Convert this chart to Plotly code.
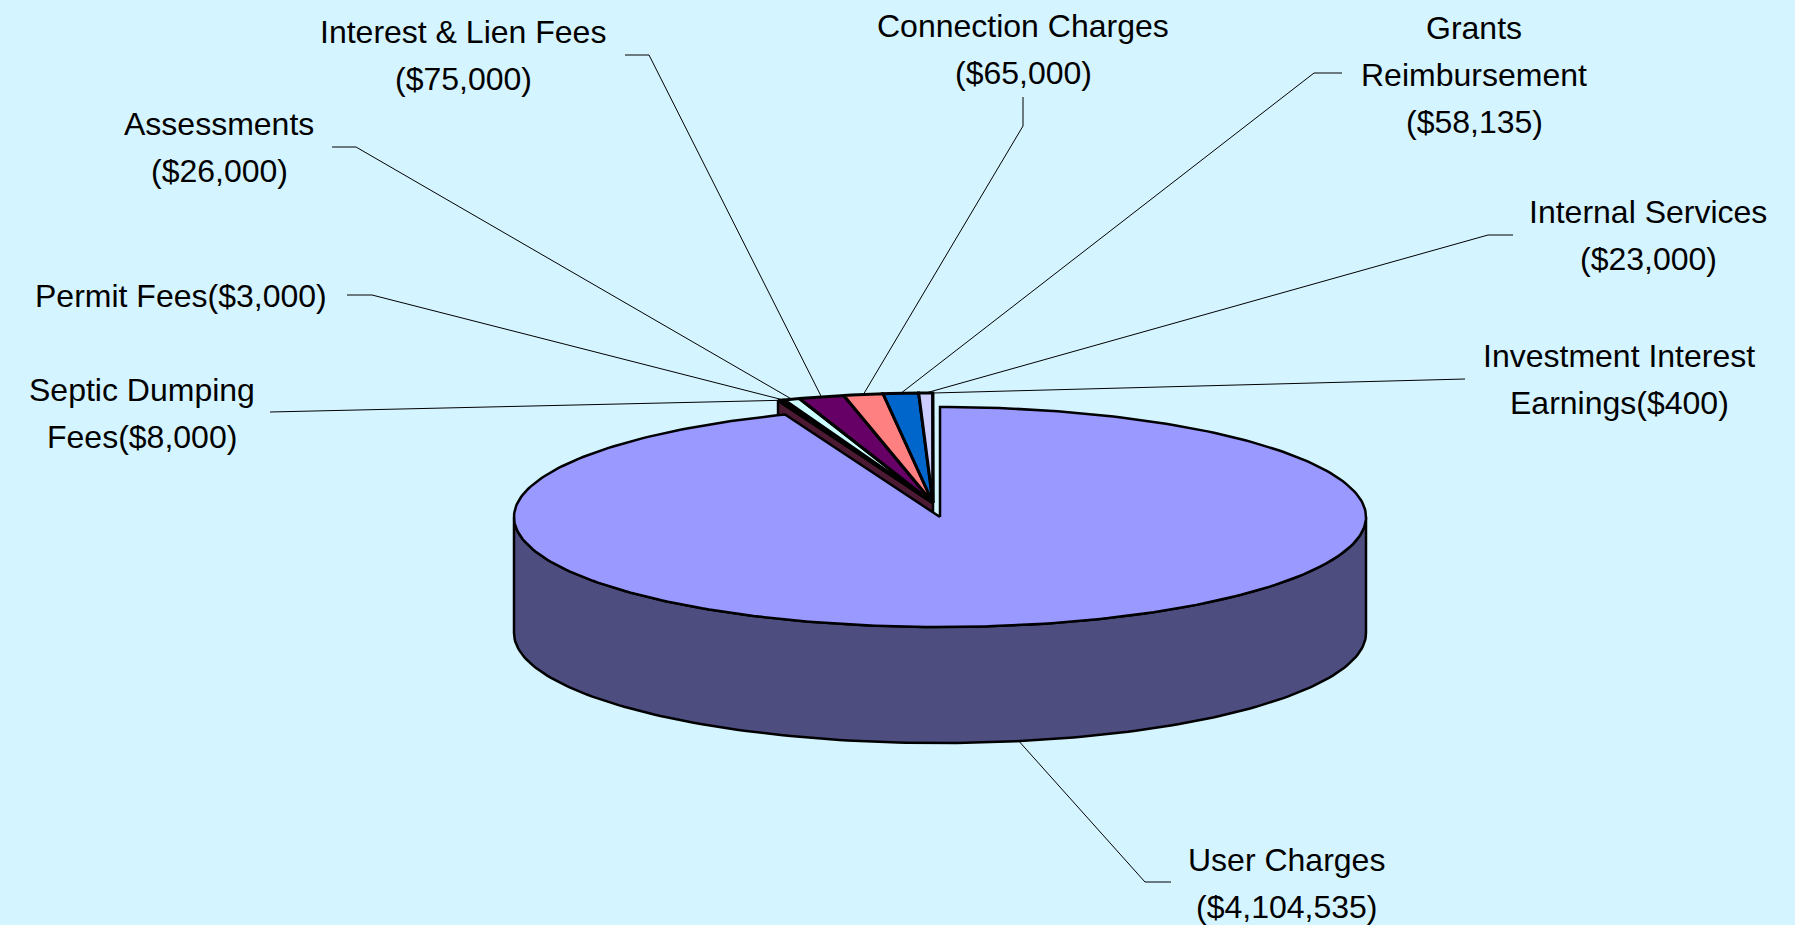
import numpy as np
import plotly.graph_objects as go

# ---- data ----
categories = ["User Charges", "Septic Dumping Fees", "Permit Fees", "Assessments",
              "Interest & Lien Fees", "Connection Charges", "Grants Reimbursement",
              "Internal Services", "Investment Interest Earnings"]
values = [4104535, 8000, 3000, 26000, 75000, 65000, 58135, 23000, 400]
label_lines = [["User Charges", "($4,104,535)"],
               ["Septic Dumping", "Fees($8,000)"],
               ["Permit Fees($3,000)"],
               ["Assessments", "($26,000)"],
               ["Interest & Lien Fees", "($75,000)"],
               ["Connection Charges", "($65,000)"],
               ["Grants", "Reimbursement", "($58,135)"],
               ["Internal Services", "($23,000)"],
               ["Investment Interest", "Earnings($400)"]]

# ---- style / layout ----
top_colors = ["#9999FF", "#993366", "#FFFFCC", "#CCFFFF", "#660066",
              "#FF8080", "#0066CC", "#CCCCFF", "#000080"]
user_wall = "#4D4D80"
septic_wall = "#4D1A33"
bg = "#D4F4FF"
W, H = 1795, 925
RX, RY, DEPTH = 426, 110, 116
USER_C = (940, 517)
GROUP_C = (933, 503)
FONT = dict(family="Liberation Sans", size=32, color="#000000")
LINE_H = 47
label_xy = [(1286, 860), (142, 390), (181, 296), (219, 124), (463, 32),
            (1023, 26), (1474, 28), (1648, 212), (1619, 356)]
elbows = [[(1145, 882), (1171, 882)],
          [(296, 412), (270, 412)],
          [(372, 295), (347, 295)],
          [(356, 147), (332, 147)],
          [(649, 55), (625, 55)],
          [(1023, 126), (1023, 97)],
          [(1314, 73), (1342, 73)],
          [(1488, 235), (1513, 235)],
          [(1440, 379), (1465, 379)]]

# ---- geometry derived from the values ----
total = sum(values)
edges = np.concatenate([[0], np.cumsum(values) / total * 2 * np.pi])


def rim(c, t, drop=0.0):
    t = np.asarray(t, dtype=float)
    return c[0] + RX * np.sin(t), c[1] - RY * np.cos(t) + drop


def arc(t0, t1):
    return np.linspace(t0, t1, max(2, int(abs(t1 - t0) / 0.02) + 2))


fig = go.Figure()


def poly(xs, ys, fill, lw):
    fig.add_trace(go.Scatter(x=list(xs), y=list(ys), mode="lines", fill="toself",
                             fillcolor=fill, line=dict(color="#000000", width=lw),
                             hoverinfo="skip", showlegend=False))


# leader lines
for i in range(len(values)):
    mid = (edges[i] + edges[i + 1]) / 2
    if i == 0:
        ax, ay = rim(USER_C, mid, DEPTH)
    else:
        ax, ay = rim(GROUP_C, mid)
    pts = [(float(ax), float(ay))] + elbows[i]
    fig.add_trace(go.Scatter(x=[p[0] for p in pts], y=[p[1] for p in pts], mode="lines",
                             line=dict(color="#000000", width=1),
                             hoverinfo="skip", showlegend=False))

# front cut wall of the exploded group (first small slice)
wx, wy = rim(GROUP_C, edges[1])
poly([GROUP_C[0], float(wx), float(wx), GROUP_C[0], GROUP_C[0]],
     [GROUP_C[1], float(wy), float(wy) + DEPTH, GROUP_C[1] + DEPTH, GROUP_C[1]],
     septic_wall, 2.5)

# small slices, tops
for i in range(1, len(values)):
    px, py = rim(GROUP_C, arc(edges[i], edges[i + 1]))
    poly(np.r_[GROUP_C[0], px, GROUP_C[0]], np.r_[GROUP_C[1], py, GROUP_C[1]],
         top_colors[i], 3)

# user slice, outer wall
t = arc(np.pi / 2, 3 * np.pi / 2)
ux, uy = rim(USER_C, t)
lx, ly = rim(USER_C, t[::-1], DEPTH)
poly(np.r_[ux, lx, ux[0]], np.r_[uy, ly, uy[0]], user_wall, 2.5)

# user slice, top
t = arc(edges[0], edges[1])
px, py = rim(USER_C, t)
poly(np.r_[USER_C[0], px, USER_C[0]], np.r_[USER_C[1], py, USER_C[1]], top_colors[0], 2.5)

# labels
annotations = []
for lines, (cx, y0) in zip(label_lines, label_xy):
    for k, line in enumerate(lines):
        annotations.append(dict(x=cx, y=y0 + k * LINE_H, text=line, showarrow=False,
                                xref="x", yref="y", xanchor="center", yanchor="middle",
                                font=FONT))

fig.update_layout(width=W, height=H, margin=dict(l=0, r=0, t=0, b=0),
                  paper_bgcolor=bg, plot_bgcolor=bg, showlegend=False,
                  annotations=annotations,
                  xaxis=dict(range=[0, W], visible=False, fixedrange=True),
                  yaxis=dict(range=[H, 0], visible=False, fixedrange=True))
fig.write_html("out.html", config=dict(displayModeBar=False),
               post_script="document.body.style.margin='0';document.body.style.overflow='hidden';")
